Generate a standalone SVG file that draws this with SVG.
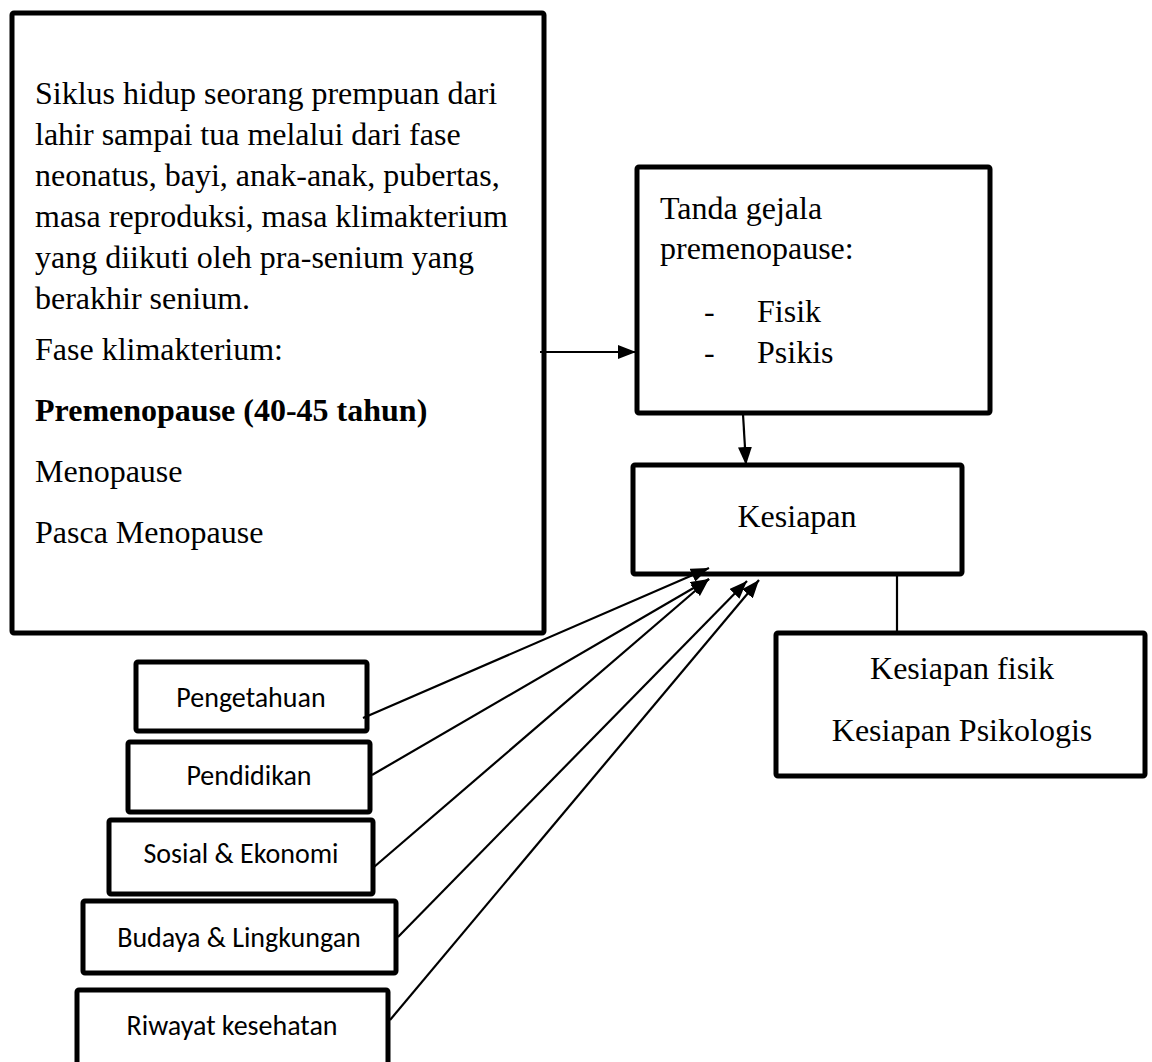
<svg xmlns="http://www.w3.org/2000/svg" width="1152" height="1062" viewBox="0 0 1152 1062">
<style>
.box{fill:#fff;stroke:#000;stroke-width:5;stroke-linejoin:round}
.serif{font-family:"Liberation Serif","Times New Roman",serif;font-size:32px;fill:#000}
.sans{font-family:Carlito,Calibri,"Liberation Sans",Arial,sans-serif;font-size:28px;fill:#000}
.bold{font-weight:bold}
.conn{stroke:#000;stroke-width:2.2;fill:none}
</style>
<defs>
<marker id="ah" viewBox="0 0 18 14" refX="18" refY="7" markerWidth="18" markerHeight="14" markerUnits="userSpaceOnUse" orient="auto">
<path d="M0,0 L18,7 L0,14 z" fill="#000"/>
</marker>
</defs>
<rect width="1152" height="1062" fill="#fff"/>

<g id="siklus">
<rect class="box" x="12" y="13" width="532" height="620" rx="2"/>
<text class="serif" x="35" y="104">Siklus hidup seorang prempuan dari</text>
<text class="serif" x="35" y="145">lahir sampai tua melalui dari fase</text>
<text class="serif" x="35" y="186">neonatus, bayi, anak-anak, pubertas,</text>
<text class="serif" x="35" y="227">masa reproduksi, masa klimakterium</text>
<text class="serif" x="35" y="268">yang diikuti oleh pra-senium yang</text>
<text class="serif" x="35" y="309">berakhir senium.</text>
<text class="serif" x="35" y="360">Fase klimakterium:</text>
<text class="serif bold" x="35" y="421">Premenopause (40-45 tahun)</text>
<text class="serif" x="35" y="482">Menopause</text>
<text class="serif" x="35" y="543">Pasca Menopause</text>
</g>

<g id="tanda">
<rect class="box" x="637" y="167" width="353" height="246" rx="2"/>
<text class="serif" x="660" y="219">Tanda gejala</text>
<text class="serif" x="660" y="259">premenopause:</text>
<text class="serif" x="704" y="322">-</text>
<text class="serif" x="757" y="322">Fisik</text>
<text class="serif" x="704" y="363">-</text>
<text class="serif" x="757" y="363">Psikis</text>
</g>

<g id="kesiapan">
<rect class="box" x="633" y="465" width="329" height="109" rx="2"/>
<text class="serif" x="797" y="527" text-anchor="middle">Kesiapan</text>
</g>

<g id="kesiapan-detail">
<rect class="box" x="776" y="633" width="369" height="143" rx="2"/>
<text class="serif" x="962" y="679" text-anchor="middle">Kesiapan fisik</text>
<text class="serif" x="962" y="741" text-anchor="middle">Kesiapan Psikologis</text>
</g>

<g id="pengetahuan">
<rect class="box" x="136" y="662" width="231" height="69" rx="2"/>
<text class="sans" x="251" y="707" text-anchor="middle">Pengetahuan</text>
</g>
<g id="pendidikan">
<rect class="box" x="128" y="742" width="242" height="70" rx="2"/>
<text class="sans" x="249" y="785" text-anchor="middle">Pendidikan</text>
</g>
<g id="sosial">
<rect class="box" x="109" y="820" width="264" height="74" rx="2"/>
<text class="sans" x="241" y="863" text-anchor="middle">Sosial &amp; Ekonomi</text>
</g>
<g id="budaya">
<rect class="box" x="83" y="901" width="313" height="72" rx="2"/>
<text class="sans" x="239" y="947" text-anchor="middle">Budaya &amp; Lingkungan</text>
</g>
<g id="riwayat">
<rect class="box" x="77" y="990" width="311" height="90" rx="2"/>
<text class="sans" x="232" y="1035" text-anchor="middle">Riwayat kesehatan</text>
</g>

<g id="connectors">
<line class="conn" x1="540" y1="352" x2="636" y2="352" marker-end="url(#ah)"/>
<line class="conn" x1="743" y1="414" x2="746" y2="465" marker-end="url(#ah)"/>
<line class="conn" x1="897" y1="576" x2="897" y2="633"/>
<line class="conn" x1="363" y1="718" x2="709" y2="568" marker-end="url(#ah)"/>
<line class="conn" x1="372" y1="775" x2="709" y2="579" marker-end="url(#ah)"/>
<line class="conn" x1="374" y1="867" x2="709" y2="579" marker-end="url(#ah)"/>
<line class="conn" x1="398" y1="937" x2="747" y2="581" marker-end="url(#ah)"/>
<line class="conn" x1="390" y1="1020" x2="759" y2="580" marker-end="url(#ah)"/>
</g>
</svg>
